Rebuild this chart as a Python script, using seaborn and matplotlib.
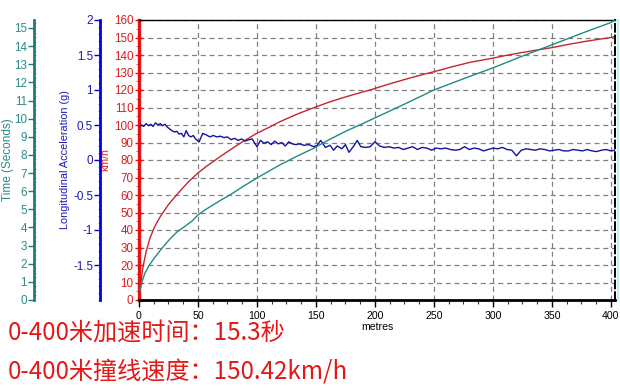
import matplotlib
matplotlib.use("Agg")
import matplotlib.pyplot as plt
from matplotlib.ticker import MultipleLocator, FixedLocator
from matplotlib.lines import Line2D
import seaborn as sns

# ---------------- data ----------------
speed_dist = [0, 0.8, 2, 3.4, 6, 9.3, 13, 17.8, 24.6, 30, 34.7, 42, 50, 57, 62.7, 68, 74.6,
              85.6, 99.7, 110, 119.5, 135, 150.6, 160, 172.9, 185, 195.8, 210, 223.7,
              237, 250.8, 265, 280.5, 300, 310, 322.9, 335, 350, 362, 376, 388, 400, 403.5]
speed_kmh = [3, 4, 12, 18.9, 27.5, 35.4, 41.5, 47.4, 54.2, 58.6, 62.2, 67.6, 72.6, 76.3,
             79.0, 81.6, 84.6, 89.5, 95.2, 98.6, 101.9, 106.5, 110.5, 112.8, 115.6, 118.0,
             120.0, 123.0, 125.7, 128.2, 130.6, 133.2, 135.8, 138.2, 139.6, 141.2, 142.6,
             144.2, 145.8, 147.5, 148.8, 150.0, 150.5]

time_dist = [0, 0.85, 2.5, 5.1, 9, 13.6, 20.3, 26, 32.2, 38, 44.9, 50, 56, 62.7, 70, 77,
             88, 100, 110, 119.5, 133, 147.5, 160, 175, 188, 200, 225, 250, 275, 300,
             325, 350, 375, 400, 403.5]
time_s = [0.5, 0.55, 1.0, 1.49, 1.95, 2.37, 2.92, 3.35, 3.75, 4.02, 4.35, 4.69, 4.97, 5.24,
          5.53, 5.79, 6.25, 6.73, 7.1, 7.45, 7.9, 8.35, 8.8, 9.3, 9.68, 10.04, 10.8, 11.58,
          12.2, 12.8, 13.45, 14.07, 14.7, 15.3, 15.44]

acc_dist = [0, 2, 4, 6, 8, 10, 12, 14, 16, 18, 20, 22, 24, 27, 30, 32, 34, 36, 38, 40,
            42, 44, 46, 48, 51, 54, 57, 60, 63, 66, 69, 72, 75, 78, 81, 84, 87, 90, 93, 96,
            100, 103, 106, 109, 112, 115, 118, 121, 124, 127, 130, 133, 136, 140, 144, 148,
            151, 154, 158, 162, 165, 168, 172, 175, 178, 182, 185, 188, 192, 196, 200, 204,
            208, 212, 216, 220, 224, 228, 232, 236, 240, 244, 248, 252, 256, 260, 264, 268,
            272, 276, 280, 284, 288, 292, 296, 300, 304, 308, 312, 316, 320, 324, 328, 332,
            336, 340, 344, 348, 352, 356, 360, 364, 368, 372, 376, 380, 384, 388, 392, 396,
            400, 403.5]
acc_g = [0.47, 0.50, 0.48, 0.52, 0.49, 0.51, 0.48, 0.53, 0.50, 0.52, 0.49, 0.51, 0.47,
         0.43, 0.40, 0.41, 0.37, 0.38, 0.33, 0.42, 0.35, 0.33, 0.35, 0.30, 0.26, 0.38,
         0.36, 0.33, 0.35, 0.33, 0.34, 0.32, 0.33, 0.29, 0.31, 0.28, 0.30, 0.27, 0.29,
         0.30, 0.19, 0.28, 0.24, 0.26, 0.22, 0.27, 0.23, 0.25, 0.20, 0.26, 0.23, 0.22,
         0.23, 0.21, 0.22, 0.19, 0.21, 0.28, 0.18, 0.21, 0.14, 0.20, 0.16, 0.22, 0.11,
         0.20, 0.28, 0.19, 0.18, 0.19, 0.26, 0.20, 0.18, 0.19, 0.17, 0.18, 0.15, 0.17,
         0.19, 0.15, 0.18, 0.17, 0.14, 0.17, 0.16, 0.17, 0.15, 0.14, 0.15, 0.19, 0.15,
         0.17, 0.16, 0.13, 0.15, 0.17, 0.16, 0.18, 0.15, 0.14, 0.06, 0.14, 0.16, 0.15,
         0.14, 0.16, 0.15, 0.13, 0.14, 0.15, 0.13, 0.13, 0.15, 0.14, 0.13, 0.15, 0.13,
         0.12, 0.14, 0.15, 0.13, 0.14]

x_ticks = [0, 50, 100, 150, 200, 250, 300, 350, 400]
speed_ticks = list(range(0, 161, 10))
acc_ticks = [-1.5, -1, -0.5, 0, 0.5, 1, 1.5, 2]
acc_tick_labels = ["-1.5", "-1", "-0.5", "0", "0.5", "1", "1.5", "2"]
time_ticks = list(range(0, 16))

line1 = "0-400米加速时间：15.3秒"
line2 = "0-400米撞线速度：150.42km/h"

# ---------------- style ----------------
sns.set_style("white")
plt.rcParams["font.family"] = ["Liberation Sans", "DejaVu Sans"]

RED_LINE = "#c4262e"
RED_AX = "#e81010"
RED_TXT = "#d82020"
BLUE_LINE = "#14149a"
BLUE_AX = "#0000e6"
BLUE_TXT = "#1a1ab4"
TEAL_LINE = "#1f8a86"
TEAL_AX = "#1f7a78"
TEAL_TXT = "#2a8a88"
FS = 7.6

W, H = 620, 390
L, R, T, B = 139, 615, 20, 300
fig = plt.figure(figsize=(W / 100, H / 100), dpi=100)
ax = fig.add_axes([L / W, 1 - B / H, (R - L) / W, (B - T) / H])
ax_acc = ax.twinx()
ax_time = ax.twinx()

sns.lineplot(x=speed_dist, y=speed_kmh, ax=ax, color=RED_LINE, lw=1.0)
sns.lineplot(x=acc_dist, y=acc_g, ax=ax_acc, color=BLUE_LINE, lw=1.0)
sns.lineplot(x=time_dist, y=time_s, ax=ax_time, color=TEAL_LINE, lw=1.0)

ax.set_xlim(0, 403.5)
ax.set_ylim(0, 160)
ax_acc.set_ylim(-2, 2)
ax_time.set_ylim(0, 15.44)

# grid
ax.grid(True, which="major", color="#808080", linestyle=(0, (4, 3)), linewidth=0.9)
ax.set_axisbelow(True)

# main axes spines
ax.spines["left"].set_color(RED_AX)
ax.spines["left"].set_linewidth(2.4)
ax.spines["bottom"].set_color("black")
ax.spines["bottom"].set_linewidth(2.0)
ax.spines["top"].set_color("black")
ax.spines["top"].set_linewidth(1.0)
ax.spines["right"].set_color("black")
ax.spines["right"].set_linewidth(1.4)
ax.spines["right"].set_linestyle((0, (4, 2)))

# x axis
ax.xaxis.set_major_locator(FixedLocator(x_ticks))
ax.xaxis.set_minor_locator(MultipleLocator(12.5))
ax.tick_params(axis="x", which="major", direction="out", length=5, width=1,
               color="black", labelsize=FS, labelcolor="black", pad=3, bottom=True)
ax.tick_params(axis="x", which="minor", direction="out", length=3, width=0.8,
               color="#333333", bottom=True)
ax.set_xlabel("metres", fontsize=FS, color="black", labelpad=1)

# speed axis (red)
ax.yaxis.set_major_locator(FixedLocator(speed_ticks))
ax.yaxis.set_minor_locator(MultipleLocator(5))
ax.tick_params(axis="y", which="major", direction="inout", length=6, width=1,
               color=RED_AX, labelsize=FS + 0.8, labelcolor=RED_TXT, pad=1, left=True)
ax.tick_params(axis="y", which="minor", direction="out", length=2, width=0.7,
               color="#f06060", left=True)
ax.set_ylabel("km/h", fontsize=FS, color=RED_TXT)
ax.yaxis.label.set_va("center")
ax.yaxis.set_label_coords((105 - L) / (R - L), 0.5)

# acceleration axis (blue)
for s in ["top", "bottom", "right"]:
    ax_acc.spines[s].set_visible(False)
ax_acc.spines["left"].set_visible(True)
ax_acc.spines["left"].set_position(("axes", (100 - L) / (R - L)))
ax_acc.spines["left"].set_color(BLUE_AX)
ax_acc.spines["left"].set_linewidth(2.0)
ax_acc.yaxis.set_ticks_position("left")
ax_acc.yaxis.set_label_position("left")
ax_acc.yaxis.set_major_locator(FixedLocator(acc_ticks))
ax_acc.set_yticklabels(acc_tick_labels)
ax_acc.yaxis.set_minor_locator(MultipleLocator(0.1))
ax_acc.tick_params(axis="y", which="major", direction="out", length=4, width=1,
                   color=BLUE_AX, labelsize=FS + 0.8, labelcolor=BLUE_TXT, pad=1)
ax_acc.tick_params(axis="y", which="minor", direction="out", length=1.5, width=0.6,
                   color="#6060f0")
ax_acc.set_ylabel("Longitudinal Acceleration (g)", fontsize=FS + 0.2, color=BLUE_TXT)
ax_acc.yaxis.label.set_va("center")
ax_acc.yaxis.set_label_coords((65 - L) / (R - L), 0.5)

# time axis (teal)
for s in ["top", "bottom", "right"]:
    ax_time.spines[s].set_visible(False)
ax_time.spines["left"].set_visible(True)
ax_time.spines["left"].set_position(("axes", (34 - L) / (R - L)))
ax_time.spines["left"].set_color(TEAL_AX)
ax_time.spines["left"].set_linewidth(2.0)
ax_time.yaxis.set_ticks_position("left")
ax_time.yaxis.set_label_position("left")
ax_time.yaxis.set_major_locator(FixedLocator(time_ticks))
ax_time.yaxis.set_minor_locator(MultipleLocator(0.25))
ax_time.tick_params(axis="y", which="major", direction="out", length=4, width=1,
                    color=TEAL_AX, labelsize=FS + 0.8, labelcolor=TEAL_TXT, pad=1)
ax_time.tick_params(axis="y", which="minor", direction="in", length=1.5, width=0.6,
                    color="#60a8a6")
ax_time.set_ylabel("Time (Seconds)", fontsize=FS + 0.9, color=TEAL_TXT)
ax_time.yaxis.label.set_va("center")
ax_time.yaxis.set_label_coords((8 - L) / (R - L), 0.5)

ax_acc.set_xlabel("")
ax_time.set_xlabel("")
ax_acc.tick_params(axis="x", bottom=False, labelbottom=False)
ax_time.tick_params(axis="x", bottom=False, labelbottom=False)

# light cyan edge line at the right border
fig.add_artist(Line2D([617.5 / W, 617.5 / W], [1 - B / H, 1 - T / H],
                      transform=fig.transFigure, color="#bff0f4", lw=1.5))

# summary text
cjk = ["Noto Sans CJK SC", "DejaVu Sans"]
fig.text(8 / W, 1 - 333 / H, line1, fontsize=17.4, color="#e41818",
         family=cjk, ha="left", va="center")
fig.text(8 / W, 1 - 372 / H, line2, fontsize=17.4, color="#e41818",
         family=cjk, ha="left", va="center")

fig.savefig("out.png", dpi=100)
